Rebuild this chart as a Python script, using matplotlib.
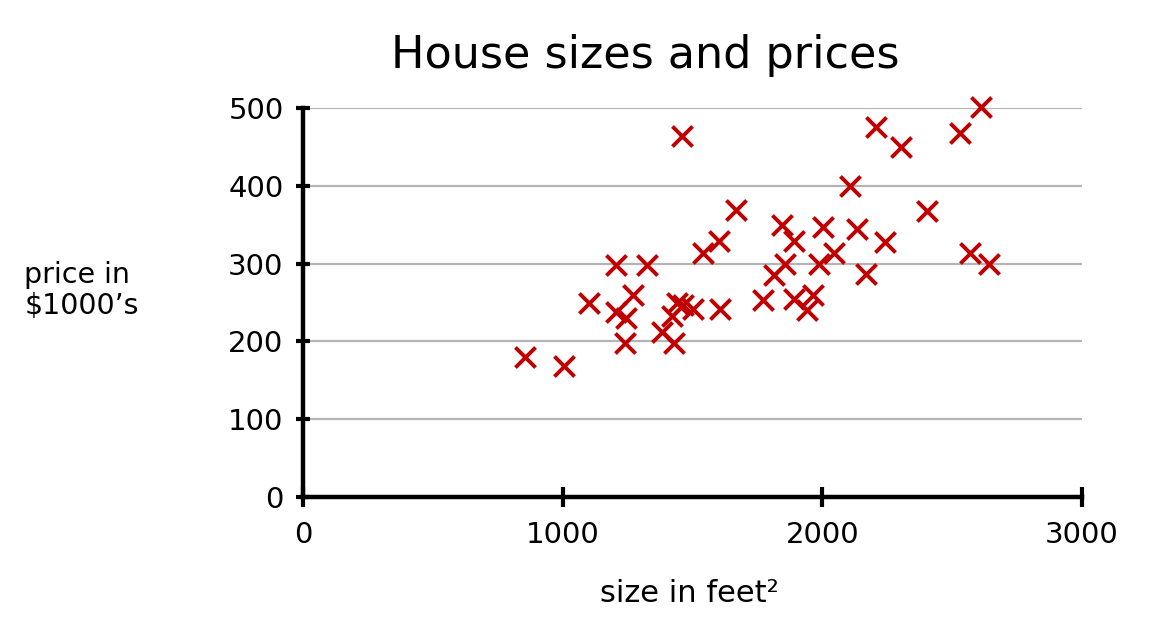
import matplotlib
matplotlib.use("Agg")
import matplotlib.pyplot as plt

sizes = [855, 1005, 1101, 1205, 1325, 1205, 1271, 1244, 1240, 1382, 1421, 1440,
         1463, 1502, 1429, 1459, 1540, 1602, 1606, 1667, 1771, 1814, 1846, 1856,
         1890, 1889, 1941, 1964, 1987, 2002, 2045, 2106, 2133, 2168, 2206, 2241,
         2303, 2403, 2530, 2568, 2611, 2641]
prices = [180, 168, 249, 298, 298, 238, 260, 230, 198, 212, 233, 250,
          247, 242, 198, 464, 314, 329, 242, 369, 253, 285, 350, 300,
          329, 254, 240, 260, 300, 347, 314, 400, 345, 287, 476, 328,
          450, 368, 468, 314, 501, 300]
x_ticks = [0, 1000, 2000, 3000]
y_ticks = [0, 100, 200, 300, 400, 500]

fig = plt.figure(figsize=(11.62, 6.18), dpi=100)
ax = fig.add_axes([0.2608, 0.1958, 0.6704, 0.6294])

ax.set_xlim(0, 3000)
ax.set_ylim(0, 500)
ax.set_xticks(x_ticks)
ax.set_yticks(y_ticks)
ax.set_xticklabels([str(v) for v in x_ticks], fontsize=21)
ax.set_yticklabels([str(v) for v in y_ticks], fontsize=21)

for y in y_ticks[1:]:
    ax.axhline(y, color="#b4b4b4", lw=1.6, zorder=1)

ax.scatter(sizes, prices, marker="x", s=210, linewidths=2.8, color="#c00000", zorder=3, clip_on=False)

for side in ["top", "right"]:
    ax.spines[side].set_visible(False)
for side in ["left", "bottom"]:
    ax.spines[side].set_linewidth(3.2)
    ax.spines[side].set_color("black")
    ax.spines[side].set_zorder(4)

ax.tick_params(axis="x", direction="inout", length=14, width=3, pad=10, colors="black")
ax.tick_params(axis="y", direction="inout", length=10, width=3, pad=9, colors="black")

fig.text(0.555, 0.91, "House sizes and prices", ha="center", va="center", fontsize=32)
fig.text(0.021, 0.53, "price in\n$1000\u2019s", ha="left", va="center", fontsize=20.5, linespacing=1.15)
fig.text(0.593, 0.04, "size in feet\u00b2", ha="center", va="center", fontsize=22)

fig.savefig("out.png", dpi=100, facecolor="white")
